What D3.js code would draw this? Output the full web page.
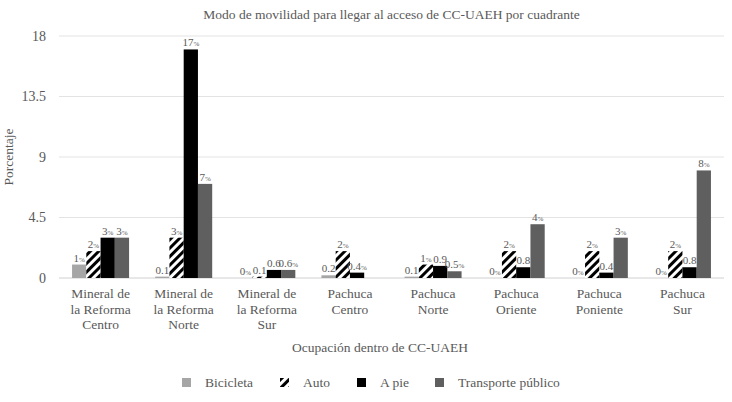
<!DOCTYPE html>
<html>
<head>
<meta charset="utf-8">
<script src="https://cdn.jsdelivr.net/npm/d3@7"></script>
<style>
  body { margin: 0; background: #fff; }
  svg text, svg tspan { font-family: "Liberation Serif", "DejaVu Serif", serif; fill: #595959; }
</style>
</head>
<body>
<svg id="chart"></svg>
<script>
// chart data
const categories = [
  ["Mineral de", "la Reforma", "Centro"],
  ["Mineral de", "la Reforma", "Norte"],
  ["Mineral de", "la Reforma", "Sur"],
  ["Pachuca", "Centro"],
  ["Pachuca", "Norte"],
  ["Pachuca", "Oriente"],
  ["Pachuca", "Poniente"],
  ["Pachuca", "Sur"]
];
const seriesNames = ["Bicicleta", "Auto", "A pie", "Transporte público"];
const bicicleta = [1, 0.1, 0, 0.2, 0.1, 0, 0, 0];
const auto = [2, 3, 0.1, 2, 1, 2, 2, 2];
const aPie = [3, 17, 0.6, 0.4, 0.9, 0.8, 0.4, 0.8];
const transporte = [3, 7, 0.6, 0, 0.5, 4, 3, 8];
const bicicletaLabels = ["1%", "0.1", "0%", "0.2", "0.1", "0%", "0%", "0%"];
const autoLabels = ["2%", "3%", "0.1", "2%", "1%", "2%", "2%", "2%"];
const aPieLabels = ["3%", "17%", "0.6", "0.4%", "0.9", "0.8", "0.4", "0.8"];
const transporteLabels = ["3%", "7%", "0.6%", "", "0.5%", "4%", "3%", "8%"];
const yTicks = [0, 4.5, 9, 13.5, 18];

const width = 732, height = 402;
const margin = { top: 36, right: 8, bottom: 124, left: 59 };

const svg = d3.select("#chart")
  .attr("width", width).attr("height", height)
  .attr("font-family", "'Liberation Serif', 'DejaVu Serif', serif");

const defs = svg.append("defs");
const pat = defs.append("pattern")
  .attr("id", "hatch")
  .attr("patternUnits", "userSpaceOnUse")
  .attr("width", 6).attr("height", 6)
  .attr("patternTransform", "rotate(45)");
pat.append("rect").attr("width", 6).attr("height", 6).attr("fill", "#fff");
pat.append("rect").attr("width", 3).attr("height", 6).attr("fill", "#000");

const fills = ["#a6a6a6", "url(#hatch)", "#000000", "#5f5f5f"];
const values = [bicicleta, auto, aPie, transporte];
const labels = [bicicletaLabels, autoLabels, aPieLabels, transporteLabels];

const x = d3.scaleBand()
  .domain(d3.range(categories.length))
  .range([margin.left, width - margin.right])
  .paddingInner(0.314).paddingOuter(0.157);

const x1 = d3.scaleBand()
  .domain(d3.range(seriesNames.length))
  .range([0, x.bandwidth()]);

const y = d3.scaleLinear()
  .domain([0, 18])
  .range([height - margin.bottom, margin.top]);

// gridlines
svg.append("g")
  .selectAll("line")
  .data(yTicks)
  .join("line")
  .attr("x1", margin.left).attr("x2", width - margin.right)
  .attr("y1", d => y(d)).attr("y2", d => y(d))
  .attr("stroke", d => d === 0 ? "#d0d0d0" : "#e3e3e3")
  .attr("stroke-width", 1);

// y axis labels
svg.append("g")
  .selectAll("text")
  .data(yTicks)
  .join("text")
  .attr("x", 46)
  .attr("y", d => y(d))
  .attr("dy", "0.35em")
  .attr("text-anchor", "end")
  .attr("font-size", 14)
  .text(d => d);

// bars
const groups = svg.append("g")
  .selectAll("g")
  .data(values)
  .join("g")
  .attr("fill", (d, i) => fills[i]);

groups.each(function (vals, s) {
  d3.select(this).selectAll("rect")
    .data(vals)
    .join("rect")
    .attr("x", (d, i) => x(i) + x1(s))
    .attr("y", d => y(d))
    .attr("width", x1.bandwidth())
    .attr("height", d => y(0) - y(d));
});

// data labels
const labelG = svg.append("g");
values.forEach((vals, s) => {
  vals.forEach((v, i) => {
    const lab = labels[s][i];
    if (!lab) return;
    const t = labelG.append("text")
      .attr("x", x(i) + x1(s) + x1.bandwidth() / 2)
      .attr("y", y(v) - 3)
      .attr("text-anchor", "middle")
      .attr("font-size", 11);
    if (lab.endsWith("%")) {
      t.append("tspan").text(lab.slice(0, -1));
      t.append("tspan").attr("font-size", 7).text("%");
    } else {
      t.text(lab);
    }
  });
});

// category labels
const catG = svg.append("g");
categories.forEach((lines, i) => {
  const t = catG.append("text")
    .attr("text-anchor", "middle")
    .attr("font-size", 13.5)
    .attr("x", x(i) + x.bandwidth() / 2)
    .attr("y", y(0) + 20);
  lines.forEach((ln, k) => {
    t.append("tspan")
      .attr("x", x(i) + x.bandwidth() / 2)
      .attr("dy", k === 0 ? 0 : 15.5)
      .text(ln);
  });
});

// title
svg.append("text")
  .attr("x", (margin.left + width - margin.right) / 2)
  .attr("y", 19)
  .attr("text-anchor", "middle")
  .attr("font-size", 13.5)
  .text("Modo de movilidad para llegar al acceso de CC-UAEH por cuadrante");

// axis titles
svg.append("text")
  .attr("transform", "translate(13," + ((y(0) + y(18)) / 2) + ") rotate(-90)")
  .attr("text-anchor", "middle")
  .attr("font-size", 13.5)
  .text("Porcentaje");

svg.append("text")
  .attr("x", 380)
  .attr("y", 352)
  .attr("text-anchor", "middle")
  .attr("font-size", 13.5)
  .text("Ocupación dentro de CC-UAEH");

// legend
const legendX = [182, 280, 357, 435];
const legend = svg.append("g")
  .selectAll("g")
  .data(seriesNames)
  .join("g")
  .attr("transform", (d, i) => "translate(" + legendX[i] + ",378)");
legend.append("rect")
  .attr("width", 9).attr("height", 9)
  .attr("fill", (d, i) => fills[i]);
legend.append("text")
  .attr("x", 23).attr("y", 4.5)
  .attr("dy", "0.35em")
  .attr("font-size", 13.5)
  .text(d => d);
</script>
</body>
</html>
